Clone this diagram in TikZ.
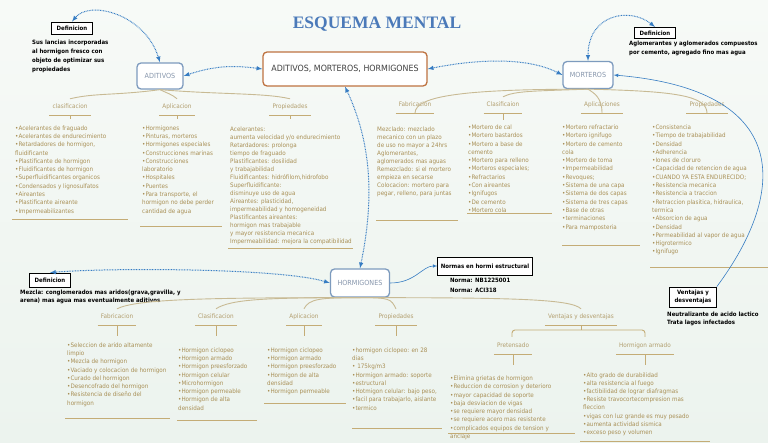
\documentclass[tikz,border=0pt]{standalone}
\usepackage{fontspec}
\setmainfont{DejaVu Sans}[FakeStretch=0.92]
\newfontfamily\titlefont{Liberation Serif}
\usetikzlibrary{positioning}
\definecolor{mapbg}{RGB}{236,243,238}
\definecolor{mapbgl}{RGB}{247,250,247}
\definecolor{linkblue}{RGB}{55,125,195}
\definecolor{topicline}{RGB}{125,155,190}
\definecolor{topictext}{RGB}{135,150,172}
\definecolor{hubline}{RGB}{190,115,65}
\definecolor{titleblue}{RGB}{75,122,185}
\definecolor{infobrown}{RGB}{168,143,85}
\definecolor{headbrown}{RGB}{178,158,110}
\definecolor{rulebrown}{RGB}{196,172,118}
\definecolor{branchbrown}{RGB}{200,186,148}
\begin{document}
\begin{tikzpicture}[x=1pt, y=-1pt,
  hub/.style = {draw=hubline, line width=1.3pt, rounded corners=4pt, fill=white, text=black!75, font=\fontsize{8.6}{10}\selectfont, minimum width=164pt, minimum height=34pt},
  topic/.style = {draw=topicline, line width=1.3pt, rounded corners=4pt, fill=white, text=topictext, font=\fontsize{7}{8}\selectfont, minimum width=46pt, minimum height=26pt},
  defbox/.style = {draw=black, line width=0.8pt, fill=white, font=\bfseries\fontsize{5.9}{7}\selectfont, inner xsep=5pt, minimum height=12pt},
  deftext/.style = {align=left, inner sep=0pt, font=\bfseries\fontsize{5.9}{9}\selectfont},
  head/.style = {text=headbrown, font=\fontsize{6.2}{7}\selectfont, text height=4pt, text depth=1pt, inner xsep=3pt, inner ysep=5.5pt},
  info/.style = {anchor=north west, align=left, inner sep=0pt, text=infobrown, font=\fontsize{6.1}{8.3}\selectfont},
  link/.style = {draw=linkblue, line width=1pt, dash pattern=on 0.8pt off 0.8pt, latex-latex},
  wire/.style = {draw=linkblue, line width=0.6pt},
  branch/.style = {draw=branchbrown, line width=0.9pt},
  rule/.style = {draw=rulebrown, line width=0.9pt}]
\useasboundingbox (0,0) rectangle (768,443);
\shade[top color=mapbgl, bottom color=mapbg] (0,0) rectangle (768,443);

\node[font=\titlefont\bfseries\fontsize{17.5}{18}\selectfont, text=titleblue] (0) at (377,24) {ESQUEMA MENTAL};
\node[hub] (1) at (345,69) {ADITIVOS, MORTEROS, HORMIGONES};
\node[topic] (2) at (160,76) {ADITIVOS};
\node[topic, minimum width=50pt, minimum height=27pt] (3) at (588,75) {MORTEROS};
\node[topic, minimum width=59pt, minimum height=28pt] (4) at (360,283) {HORMIGONES};

\node[defbox] (5) at (72,28) {Definicion};
\node[deftext] (6) [below right=5.5pt and -40pt of 5.south] {Sus lancias incorporadas\\al hormigon fresco con\\objeto de optimizar sus\\propiedades};
\node[defbox, minimum height=11pt] (7) at (655,33) {Definicion};
\node[deftext, font=\bfseries\fontsize{5.9}{8.5}\selectfont] (8) [below right=2pt and -26pt of 7.south] {Aglomerantes y aglomerados compuestos\\por cemento, agregado fino mas agua};
\node[defbox, minimum height=14pt] (9) at (50,280) {Definicion};
\node[deftext, font=\bfseries\fontsize{5.9}{7.5}\selectfont] (10) [below right=2.5pt and -30pt of 9.south] {Mezcla: conglomerados mas aridos(grava,gravilla, y\\arena) mas agua mas eventualmente aditivos};
\node[defbox, inner xsep=3pt, minimum height=18pt] (11) at (485,266) {Normas en hormi estructural};
\node[deftext, font=\bfseries\fontsize{5.9}{10}\selectfont] (12) [below right=2.5pt and -35pt of 11.south] {Norma: NB1225001\\Norma: ACI318};
\node[defbox, align=center, font=\bfseries\fontsize{5.9}{7.5}\selectfont, minimum height=20pt] (13) at (693,297) {Ventajas y\\desventajas};
\node[deftext, font=\bfseries\fontsize{5.9}{8}\selectfont] (14) [below right=4.5pt and -26pt of 13.south] {Neutralizante de acido lactico\\Trata lagos infectados};

\node[head] (15) at (70,107) {clasificacion};
\node[head] (16) at (177,107) {Aplicacion};
\node[head] (17) at (290,107) {Propiedades};
\node[head] (18) at (415,105) {Fabricacion};
\node[head] (19) at (503,105) {Clasificaion};
\node[head] (20) at (602,105) {Aplicaciones};
\node[head] (21) at (707,105) {Propiedades};
\node[head] (22) at (117,317) {Fabricacion};
\node[head] (23) at (216,317) {Clasificacion};
\node[head] (24) at (304,317) {Aplicacion};
\node[head] (25) at (396,317) {Propiedades};
\node[head] (26) at (581,317) {Ventajas y desventajas};
\node[head] (27) at (513,346) {Pretensado};
\node[head] (28) at (645,346) {Hormigon armado};

\node[info] (29) at (15,125.3) {•Acelerantes de fraguado\\•Acelerantes de endurecimiento\\•Retardadores de hormigon,\\fluidificante\\•Plastificante de hormigon\\•Fluidificantes de hormigon\\•Superfluidificantes organicos\\•Condensados y lignosulfatos\\•Aireantes\\•Plastificante aireante\\•Impermeabilizantes};
\node[info] (30) at (142,125.3) {•Hormigones\\•Pinturas, morteros\\•Hormigones especiales\\•Construcciones marinas\\•Construcciones\\laboratorio\\•Hospitales\\•Puentes\\•Para transporte, el\\hormigon no debe perder\\cantidad de agua};
\node[info, font=\fontsize{6.1}{8}\selectfont] (31) at (230,126.6) {Acelerantes:\\aumenta velocidad y/o endurecimiento\\Retardadores: prolonga\\tiempo de fraguado\\Plastificantes: dosilidad\\y trabajabilidad\\Fluidificantes: hidrófilom,hidrofobo\\Superfluidificante:\\disminuye uso de agua\\Aireantes: plasticidad,\\impermeabilidad y homogeneidad\\Plastificantes aireantes:\\hormigon mas trabajable\\y mayor resistencia mecanica\\Impermeabilidad: mejora la compatibilidad};
\node[info, font=\fontsize{6.1}{8}\selectfont] (32) at (377,126.6) {Mezclado: mezclado\\mecanico con un plazo\\de uso no mayor a 24hrs\\Aglomerantes,\\aglomerados mas aguas\\Remezclado: si el mortero\\empieza en secarse\\Colocacion: mortero para\\pegar, relleno, para juntas};
\node[info] (33) at (468,124.6) {•Mortero de cal\\•Mortero bastardos\\•Mortero a base de\\cemento\\•Mortero para relleno\\•Morteros especiales;\\•Refractarios\\•Con aireantes\\•Ignifugos\\•De cemento\\•Mortero cola};
\node[info] (34) at (562,124.6) {•Mortero refractario\\•Mortero ignifugo\\•Mortero de cemento\\cola\\•Mortero de toma\\•Impermeabilidad\\•Revoques;\\•Sistema de una capa\\•Sistema de dos capas\\•Sistema de tres capas\\•Base de otras\\•terminaciones\\•Para mamposteria};
\node[info] (35) at (652,124.6) {•Consistencia\\•Tiempo de trabajabilidad\\•Densidad\\•Adherencia\\•Iones de cloruro\\•Capacidad de retencion de agua\\•CUANDO YA ESTA ENDURECIDO;\\•Resistencia mecanica\\•Resistencia a traccion\\•Retraccion plasitica, hidraulica,\\termica\\•Absorcion de agua\\•Densidad\\•Permeabilidad al vapor de agua\\•Higrotermico\\•Ignifugo};
\node[info] (36) at (67,342.3) {•Seleccion de arido altamente\\limpio\\•Mezcla de hormigon\\•Vaciado y colocacion de hormigon\\•Curado del hormigon\\•Desencofrado del hormigon\\•Resistencia de diseño del\\hormigon};
\node[info] (37) at (178,347.3) {•Hormigon ciclopeo\\•Hormigon armado\\•Hormigon preesforzado\\•Hormigon celular\\•Microhormigon\\•Hormigon permeable\\•Hormigon de alta\\densidad};
\node[info] (38) at (267,347.3) {•Hormigon ciclopeo\\•Hormigon armado\\•Hormigon preesforzado\\•Hormigon de alta\\densidad\\•Hormigon permeable};
\node[info] (39) at (352,347.3) {•hormigon ciclopeo: en 28\\dias\\• 175kg/m3\\•Hormigon armado: soporte\\•estructural\\•Hotmigon celular: bajo peso,\\•facil para trabajarlo, aislante\\•termico};
\node[info] (40) at (450,375.6) {•Elimina grietas de hormigon\\•Reduccion de corrosion y deterioro\\•mayor capacidad de soporte\\•baja desviacion de vigas\\•se requiere mayor densidad\\•se requiere acero mas resistente\\•complicados equipos de tension y\\anclaje};
\node[info, font=\fontsize{6.1}{8.2}\selectfont] (41) at (583,372.3) {•Alto grado de durabilidad\\•alta resistencia al fuego\\•factibilidad de lograr diafragmas\\•Resiste travocortecompresion mas\\fleccion\\•vigas con luz grande es muy pesado\\•aumenta actividad sismica\\•exceso peso y volumen};

\draw[branch] (2.south) .. controls +(-45,6) and +(25,-6) .. (15.north);
\draw[branch] (2.south) .. controls +(8,4) and +(-6,-5) .. (16.north);
\draw[branch] (2.south) .. controls +(60,5) and +(-25,-6) .. (17.north);
\draw[branch] (3.south) .. controls +(-120,0) and +(0,-18) .. (18.south);
\draw[branch] (3.south) .. controls +(-55,2) and +(12,-6) .. (19.north);
\draw[branch] (3.south) .. controls +(6,4) and +(0,-16) .. (20.south);
\draw[branch] (3.south) .. controls +(85,2) and +(0,-18) .. (21.south);
\draw[branch] (4.south) .. controls +(-150,0) and +(20,-10) .. (22.north);
\draw[branch] (4.south) .. controls +(-90,0) and +(15,-10) .. (23.north);
\draw[branch] (4.south) .. controls +(-40,0) and +(5,-10) .. (24.north);
\draw[branch] (4.south) .. controls +(30,0) and +(-5,-10) .. (25.north);
\draw[branch] (4.south) .. controls +(150,0) and +(-10,-10) .. (26.north);

\draw[rule] (15.south west) -- (15.south east) (15.south) -- ++(0,3.5);
\draw[rule] (16.south west) -- (16.south east) (16.south) -- ++(0,3.5);
\draw[rule] (17.south west) -- (17.south east) (17.south) -- ++(0,3.5);
\draw[rule] (18.south west) -- (18.south east);
\draw[rule] (19.south west) -- (19.south east) (19.south) -- ++(0,7);
\draw[rule] (20.south west) -- (20.south east);
\draw[rule] (21.south west) -- (21.south east);
\draw[rule] (22.south west) -- (22.south east) (22.south) -- ++(0,11);
\draw[rule] (23.south west) -- (23.south east) (23.south) -- ++(0,11);
\draw[rule] (24.south west) -- (24.south east) (24.south) -- ++(0,11);
\draw[rule] (25.south west) -- (25.south east) (25.south) -- ++(0,11);
\draw[rule] (26.south west) -- (26.south east) (26.south) -- ++(0,5);
\draw[rule, rounded corners=3pt] (512,337) |- (645,330) -- (645,337);
\draw[rule] (27.south west) -- (27.south east) (27.south) -- ++(0,11);
\draw[rule] (28.south west) -- (28.south east) (28.south) -- ++(0,11);

\draw[rule] (12,219) -- (128,219);
\draw[rule] (140,226) -- (222,226);
\draw[rule] (228,248) -- (353,248);
\draw[rule] (376,220) -- (458,220);
\draw[rule] (467,213) -- (552,213);
\draw[rule] (562,245) -- (640,245);
\draw[rule] (650,267) -- (768,267);
\draw[rule] (65,418) -- (170,418);
\draw[rule] (177,420) -- (257,420);
\draw[rule] (264,403) -- (346,403);
\draw[rule] (352,428) -- (442,428);
\draw[rule] (448,433) -- (575,433);
\draw[rule] (580,441) -- (710,441);

\draw[link] (2.north) .. controls +(-15,-48) and +(18,-22) .. (5.north);
\draw[link] (1.west) .. controls +(-30,-4) and +(30,-10) .. (2.east);
\draw[link] (1.east) .. controls +(50,-10) and +(-35,-18) .. (3.west);
\draw[link] (3.north) .. controls +(0,-47) and +(-25,-20) .. (7.north);
\draw[link] (1.south) .. controls +(30,64) and +(12,-59) .. (4.north);
\draw[link] (4.west) .. controls +(-50,-15) and +(60,-5) .. (9.north);
\draw[wire, latex-] (3.east) .. controls +(177,15) and +(72,-97) .. (13.north east);
\draw[wire, -latex] (4.east) .. controls +(25,0) and +(-15,0) .. (11.west);
\end{tikzpicture}
\end{document}
